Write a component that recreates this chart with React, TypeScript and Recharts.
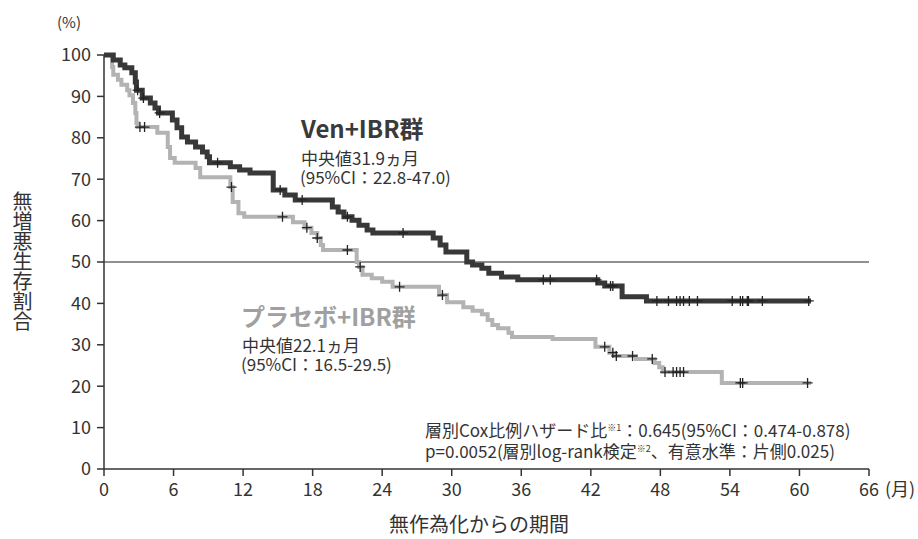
import {
  ComposedChart,
  Line,
  Scatter,
  XAxis,
  YAxis,
  ReferenceLine,
} from 'recharts'

// Kaplan–Meier steps: [month, survival %] — value holds from that month onward
const venSteps: [number, number][] = [
  [0, 100], [0.8, 98.8], [1.4, 97.6], [1.8, 96.9], [2.4, 95.7], [2.7, 93.5],
  [2.8, 91.5], [3.3, 89.6], [4.0, 88.4], [4.4, 87.2], [4.7, 86.0], [5.9, 84.3],
  [6.3, 82.4], [6.7, 80.2], [7.2, 79.0], [7.9, 77.8], [8.5, 76.6], [8.9, 75.4],
  [9.1, 74.0], [10.9, 73.0], [11.7, 72.2], [12.6, 71.5], [14.6, 67.4],
  [15.6, 66.2], [16.5, 65.0], [19.7, 63.3], [20.2, 62.1], [20.7, 60.9],
  [21.4, 60.1], [22.0, 58.9], [22.7, 57.7], [23.2, 57.0], [28.4, 55.8],
  [29.0, 54.1], [29.5, 52.4], [31.3, 50.0], [31.8, 49.3], [32.6, 48.5],
  [33.2, 47.3], [34.3, 46.4], [35.7, 45.7], [42.6, 44.9], [43.2, 44.2],
  [44.7, 41.6], [46.8, 40.6], [61, 40.6],
]

const placeboSteps: [number, number][] = [
  [0, 100], [0.7, 97.1], [0.8, 95.2], [1.2, 94.0], [1.5, 92.8], [2.0, 91.5],
  [2.2, 90.3], [2.5, 88.4], [2.7, 86.0], [2.8, 83.6], [2.9, 82.6], [4.6, 81.2],
  [5.5, 77.8], [5.7, 75.1], [6.1, 74.0], [7.9, 72.7], [8.3, 70.5], [10.9, 68.1],
  [11.1, 64.5], [11.6, 61.8], [12.1, 60.9], [16.3, 59.6], [17.3, 58.3],
  [17.9, 57.0], [18.4, 55.8], [18.7, 54.1], [18.9, 52.9], [21.8, 50.0],
  [22.0, 48.8], [22.3, 46.9], [23.1, 46.1], [24.0, 45.2], [24.9, 44.0],
  [28.9, 42.0], [29.6, 40.3], [31.0, 39.1], [31.8, 38.2], [32.6, 37.4],
  [33.1, 36.0], [33.5, 34.8], [34.0, 34.0], [34.9, 32.9], [35.2, 31.9],
  [38.7, 31.4], [42.4, 29.5], [43.6, 28.1], [44.0, 27.3], [45.9, 26.6],
  [47.5, 25.6], [47.9, 24.6], [48.2, 23.4], [53.3, 20.8], [61, 20.8],
]

// censored observations (months)
const venCensored = [
  2.9, 3.4, 4.8, 9.8, 15.2, 17.1, 21.0, 25.8, 37.9, 38.5, 42.5, 43.7, 43.9,
  47.7, 48.7, 49.4, 49.7, 50.0, 50.5, 51.2, 54.2, 54.9, 55.1, 55.5, 55.6,
  56.8, 60.8,
]
const placeboCensored = [
  3.1, 3.5, 11.0, 15.4, 17.5, 18.4, 21.0, 22.1, 25.5, 29.2, 43.2, 43.9, 44.2,
  45.6, 47.3, 48.4, 49.1, 49.4, 49.7, 50.0, 54.9, 55.1, 60.7,
]

const xTicks = [0, 6, 12, 18, 24, 30, 36, 42, 48, 54, 60, 66]
const yTicks = [0, 10, 20, 30, 40, 50, 60, 70, 80, 90, 100]

const FONT = '"Noto Sans CJK JP", "Noto Sans", sans-serif'
const DARK = '#383838'
const LIGHT = '#b3b3b3'
const TEXT = '#333'

const toRows = (steps: [number, number][]) => steps.map(([t, s]) => ({ t, s }))

const levelAt = (steps: [number, number][], t: number) => {
  let s = steps[0][1]
  for (const [st, sv] of steps) {
    if (st <= t) s = sv
  }
  return s
}

const censorRows = (steps: [number, number][], times: number[]) =>
  times.map((t) => ({ t, s: levelAt(steps, t) }))

const Plus = (props: any) => {
  const { cx, cy } = props
  if (cx == null || cy == null) return null
  return (
    <path
      d={`M${cx - 5},${cy}h10M${cx},${cy - 5}v10`}
      stroke="#222"
      strokeWidth={1.3}
      fill="none"
    />
  )
}

const MonthTick = (props: any) => {
  const { x, y, payload } = props
  return (
    <g>
      <text x={x} y={y} dy="0.75em" textAnchor="middle" fill={TEXT} fontSize={18} fontFamily={FONT}>
        {payload.value}
      </text>
      {payload.value === 66 && (
        <text x={x + 16} y={y} dy="0.75em" textAnchor="start" fill={TEXT} fontSize={18} fontFamily={FONT}>
          (月)
        </text>
      )}
    </g>
  )
}

const abs = (left: number, top: number, size: number, extra: object = {}) => ({
  position: 'absolute' as const,
  left,
  top,
  fontSize: size,
  lineHeight: 1,
  whiteSpace: 'nowrap' as const,
  color: TEXT,
  fontFamily: FONT,
  ...extra,
})

export default function App() {
  return (
    <div style={{ position: 'absolute', left: 0, top: 0, width: 918, height: 539, background: '#fff', fontFamily: FONT }}>
      <ComposedChart
        width={918}
        height={539}
        margin={{ top: 55, right: 49, bottom: 40, left: 44 }}
      >
        <XAxis
          type="number"
          dataKey="t"
          domain={[0, 66]}
          ticks={xTicks}
          allowDataOverflow
          stroke={TEXT}
          strokeWidth={1.5}
          tickSize={7}
          tickMargin={6}
          height={30}
          tick={<MonthTick />}
        />
        <YAxis
          type="number"
          dataKey="s"
          domain={[0, 100]}
          ticks={yTicks}
          stroke={TEXT}
          strokeWidth={1.5}
          tickSize={7}
          tickMargin={6}
          width={60}
          tick={{ fill: TEXT, fontSize: 18, fontFamily: FONT }}
        />
        <ReferenceLine y={50} stroke="#222" strokeWidth={1.2} />
        <Line
          data={toRows(placeboSteps)}
          dataKey="s"
          type="stepAfter"
          stroke={LIGHT}
          strokeWidth={4}
          dot={false}
          activeDot={false}
          isAnimationActive={false}
        />
        <Line
          data={toRows(venSteps)}
          dataKey="s"
          type="stepAfter"
          stroke={DARK}
          strokeWidth={5}
          dot={false}
          activeDot={false}
          isAnimationActive={false}
        />
        <Scatter
          data={censorRows(placeboSteps, placeboCensored)}
          dataKey="s"
          shape={<Plus />}
          isAnimationActive={false}
        />
        <Scatter
          data={censorRows(venSteps, venCensored)}
          dataKey="s"
          shape={<Plus />}
          isAnimationActive={false}
        />
      </ComposedChart>

      <div style={abs(57, 14, 15)}>(%)</div>
      <div style={abs(12, 191, 20, { writingMode: 'vertical-rl', letterSpacing: 0 })}>無増悪生存割合</div>
      <div style={abs(389, 514, 20)}>無作為化からの期間</div>

      <div style={abs(301, 116, 24, { fontWeight: 700, color: '#3a3a3a' })}>Ven+IBR群</div>
      <div style={abs(301, 149, 17)}>中央値31.9ヵ月</div>
      <div style={abs(300, 168, 17)}>(95%CI：22.8-47.0)</div>

      <div style={abs(241, 304, 24, { fontWeight: 700, color: '#a0a0a0' })}>プラセボ+IBR群</div>
      <div style={abs(242, 336, 17)}>中央値22.1ヵ月</div>
      <div style={abs(241, 355, 17)}>(95%CI：16.5-29.5)</div>

      <div style={abs(425, 421, 17)}>
        層別Cox比例ハザード比<span style={{ fontSize: 9, verticalAlign: 6 }}>※1</span>：0.645(95%CI：0.474-0.878)
      </div>
      <div style={abs(425, 442, 17)}>
        p=0.0052(層別log-rank検定<span style={{ fontSize: 9, verticalAlign: 6 }}>※2</span>、有意水準：片側0.025)
      </div>
    </div>
  )
}
